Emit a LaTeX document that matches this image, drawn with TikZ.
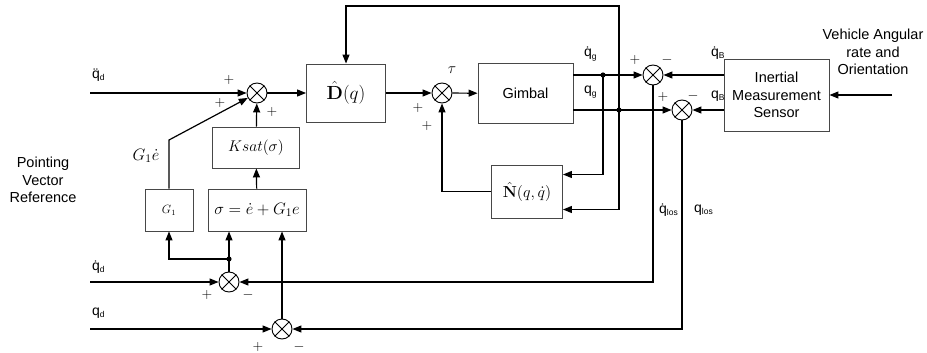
\RequirePackage{fix-cm}
\documentclass[tikz,border=0pt]{standalone}
\usepackage[no-math]{fontspec}
\setmainfont{Liberation Sans}
\usetikzlibrary{arrows.meta,calc}
\newcommand{\lbl}[2]{#1\raisebox{-0.35ex}{\fontsize{8.5}{9}\selectfont #2}}
\begin{document}
\begin{tikzpicture}[x=1pt,y=-1pt,
  blk/.style={draw=black!72, line width=0.9pt, inner sep=0pt, align=center},
  txt/.style={font=\fontsize{14.5}{17.5}\selectfont, align=center},
  mth/.style={font=\fontsize{15.5}{18}\selectfont},
  sumj/.style={circle, draw=black, line width=0.9pt, minimum size=20pt, inner sep=0pt},
  arr/.style={line width=1.2pt, -{Triangle[length=9pt,width=7pt]}},
  sgn/.style={inner sep=0pt, font=\fontsize{14}{16}\selectfont},
  ql/.style={inner sep=0pt, anchor=west, font=\fontsize{14}{16}\selectfont}]
\useasboundingbox (0,0) rectangle (927,353);

% blocks
\node[blk, font=\fontsize{19}{22}\selectfont, minimum width=79pt, minimum height=58pt] (D) at (346,93) {$\hat{\mathbf{D}}(q)$};
\node[blk, txt, minimum width=95pt, minimum height=60pt] (Gim) at (525.5,93.5) {Gimbal};
\node[blk, txt, minimum width=105pt, minimum height=72pt] (IMS) at (776.5,95) {Inertial\\Measurement\\Sensor};
\node[blk, mth, minimum width=87pt, minimum height=41pt] (Ks) at (256,147.5) {$Ksat(\sigma)$};
\node[blk, font=\fontsize{12}{14}\selectfont, minimum width=48pt, minimum height=42pt] (G1) at (169,210) {$G_1$};
\node[blk, font=\fontsize{16.5}{19}\selectfont, minimum width=98pt, minimum height=42pt] (Sig) at (257,210) {$\sigma = \dot e + G_1e$};
\node[blk, font=\fontsize{16}{19}\selectfont, minimum width=71pt, minimum height=53pt] (N) at (527,191.5) {$\hat{\mathbf{N}}(q,\dot q)$};

% summing junctions
\node[sumj] (s1) at (257,93) {};
\node[sumj] (st) at (442,93) {};
\node[sumj] (su) at (653,75) {};
\node[sumj] (sl) at (682,110) {};
\node[sumj] (s2) at (229,282) {};
\node[sumj] (s3) at (282,329) {};
\foreach \s in {s1,st,su,sl,s2,s3}
  \draw[line width=0.8pt] (\s.north west) -- (\s.south east) (\s.north east) -- (\s.south west);

% coordinates
\coordinate (qddin) at (90,93);
\coordinate (qdin) at (90,282);
\coordinate (qin) at (90,329);
\coordinate (vin) at (892,95);
\coordinate (gk) at (169,140);
\coordinate (j1) at (603,75);
\coordinate (j2) at (619,110);
\coordinate (j3) at (229,259);
\coordinate (top) at (619,6);

% connectors
\draw[arr] (qddin) -- (s1);
\draw[arr] (G1.north) -- (gk) -- (s1);
\draw[arr] (Ks) -- (s1);
\draw[arr] (Sig) -- (Ks);
\draw[arr] (s1) -- (D);
\draw[arr] (D) -- (st);
\draw[arr] (st) -- (Gim);
\draw[arr] (j2) -- (top) -| (D.north);
\draw[arr] (Gim.east |- su) -- (su);
\draw[arr] (Gim.east |- sl) -- (sl);
\draw[arr] (j1) |- ([yshift=17pt]N.east);
\draw[arr] (j2) |- ([yshift=-18pt]N.east);
\draw[arr] (N.west) -| (st.south);
\draw[arr] (IMS.west |- su) -- (su);
\draw[arr] (IMS.west |- sl) -- (sl);
\draw[arr] (vin) -- (IMS);
\draw[arr] (su.south) |- (s2.east);
\draw[arr] (sl.south) |- (s3.east);
\draw[arr] (qdin) -- (s2);
\draw[arr] (qin) -- (s3);
\draw[arr] (s2.north) -- (Sig.south -| s2);
\draw[arr] (j3) -| (G1.south);
\draw[arr] (s3.north) -- (Sig.south -| s3);
\foreach \j in {j1,j2,j3} \fill (\j) circle (2.6pt);

% signs
\node[sgn] at (229,80) {$+$};
\node[sgn] at (220,103) {$+$};
\node[sgn] at (272,112) {$+$};
\node[sgn] at (418,108) {$+$};
\node[sgn] at (427,126) {$+$};
\node[sgn] at (635,60) {$+$};
\node[sgn] at (667,60) {$-$};
\node[sgn] at (663,97) {$+$};
\node[sgn] at (693,96) {$-$};
\node[sgn] at (207,295) {$+$};
\node[sgn] at (248,295) {$-$};
\node[sgn] at (258,347) {$+$};
\node[sgn] at (299,347) {$-$};

% signal labels
\node[ql] at (92,75) {\lbl{\"q}{d}};
\node[ql] at (92,267) {\lbl{\.q}{d}};
\node[ql] at (92,313) {\lbl{q}{d}};
\node[ql] at (584,54) {\lbl{\.q}{g}};
\node[ql] at (584,92) {\lbl{q}{g}};
\node[ql] at (711,53) {\lbl{\.q}{B}};
\node[ql] at (711,96) {\lbl{q}{B}};
\node[ql] at (659,210) {\lbl{\.q}{los}};
\node[ql] at (694,210) {\lbl{q}{los}};
\node[mth, inner sep=0pt] at (452,70) {$\tau$};
\node[font=\fontsize{16.5}{19}\selectfont, inner sep=0pt] at (146,156) {$G_1\dot e$};
\node[txt] at (43,180) {Pointing\\Vector\\Reference};
\node[txt] at (873,52) {Vehicle Angular\\rate and\\Orientation};
\end{tikzpicture}
\end{document}
